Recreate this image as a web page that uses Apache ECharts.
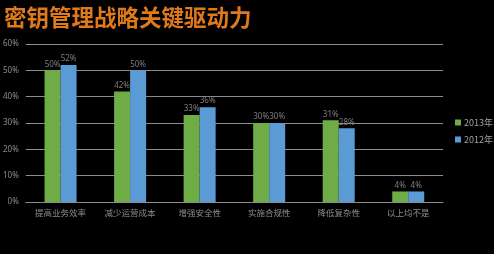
<!DOCTYPE html>
<html><head><meta charset="utf-8">
<script src="https://cdn.jsdelivr.net/npm/echarts@6/dist/echarts.min.js"></script>
<style>html,body{margin:0;padding:0;background:#000}#c{width:494px;height:254px}</style>
</head><body><div id="c"></div>
<script>
const title = '密钥管理战略关键驱动力';
const categories = ['提高业务效率','减少运营成本','增强安全性','实施合规性','降低复杂性','以上均不是'];
const series2013 = [50, 42, 33, 30, 31, 4];
const series2012 = [52, 50, 36, 30, 28, 4];
const yTicks = [0, 10, 20, 30, 40, 50, 60];

const chart = echarts.init(document.getElementById('c'));
const lbl = {show:true, position:'top', formatter:'{c}%', color:'#7f7f7f', fontSize:8, distance:2, fontFamily:'Noto Sans'};
chart.setOption({
  backgroundColor:'#000',
  animation:false,
  title:{text:title, left:4, top:6, padding:0, textStyle:{color:'#e0781c', fontSize:22.5, fontWeight:'bold', fontFamily:'Noto Sans CJK SC'}},
  legend:{orient:'vertical', left:455, top:118, padding:0, itemWidth:6, itemHeight:6, itemGap:8,
    textStyle:{color:'#a0a0a0', fontSize:9, fontFamily:'Noto Sans CJK SC', padding:[0,0,0,-2]}, icon:'rect', data:['2013年','2012年']},
  grid:{left:25, right:51, top:44, bottom:52},
  xAxis:{type:'category', data:categories,
    axisLine:{lineStyle:{color:'#8c8c8c'}}, axisTick:{show:false},
    axisLabel:{color:'#8c8c8c', fontSize:8.5, margin:7, interval:0, fontFamily:'Noto Sans CJK SC'}},
  yAxis:{type:'value', min:yTicks[0], max:yTicks[yTicks.length-1], interval:10,
    axisLabel:{color:'#8c8c8c', fontSize:8, formatter:'{value}%', margin:7, fontFamily:'Noto Sans'},
    splitLine:{lineStyle:{color:'#8c8c8c', width:1}}, axisLine:{show:false}, axisTick:{show:false}},
  series:[
    {name:'2013年', type:'bar', data:series2013, barWidth:16, barGap:'0%', itemStyle:{color:'#6fac46'}, label:lbl},
    {name:'2012年', type:'bar', data:series2012, barWidth:16, itemStyle:{color:'#5b9bd5'}, label:lbl}
  ]
});
</script></body></html>
